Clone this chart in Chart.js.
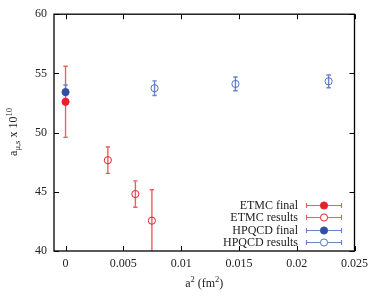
<!DOCTYPE html>
<html>
<head>
<meta charset="utf-8">
<script src="https://cdn.jsdelivr.net/npm/chart.js@4/dist/chart.umd.min.js"></script>
<style>
  html, body { margin: 0; padding: 0; background: #fff; }
</style>
</head>
<body>
<canvas id="chart" width="374" height="297"></canvas>
<script>
// values
const ETMC_FINAL_X   = [0]
const ETMC_FINAL_Y   = [52.6]
const ETMC_FINAL_ERR = [3.0]

const ETMC_X   = [0.00366, 0.00604, 0.00747]
const ETMC_Y   = [47.67, 44.81, 42.56]
const ETMC_ERR = [1.11, 1.11, 2.61]

const HPQCD_FINAL_X   = [0]
const HPQCD_FINAL_Y   = [53.42]
const HPQCD_FINAL_ERR = [0.6]

const HPQCD_X   = [0.0077, 0.0147, 0.02276]
const HPQCD_Y   = [53.75, 54.11, 54.33]
const HPQCD_ERR = [0.62, 0.58, 0.54]

const SERIES_LABELS = ['ETMC final', 'ETMC results', 'HPQCD final', 'HPQCD results']

const X_TICKS = [0, 0.005, 0.01, 0.015, 0.02, 0.025]
const X_TICK_LABELS = ['0', '0.005', '0.01', '0.015', '0.02', '0.025']
const Y_TICKS = [40, 45, 50, 55, 60]

const RED = '#e8202a'
const RED_BAR = '#ef5f62'
const BLUE = '#2f4fa6'
const BLUE_OPEN = '#5572c0'
const BLUE_BAR = '#6a84c8'
const FONT = "'Liberation Serif', 'DejaVu Serif', serif"

const pts = (xs, ys, es) => xs.map((x, i) => ({ x, y: ys[i], err: es[i] }))

const datasets = [
  { label: SERIES_LABELS[0], data: pts(ETMC_FINAL_X, ETMC_FINAL_Y, ETMC_FINAL_ERR),
    pointRadius: 3.6, backgroundColor: RED, borderColor: RED, borderWidth: 1, barColor: RED_BAR, open: false },
  { label: SERIES_LABELS[1], data: pts(ETMC_X, ETMC_Y, ETMC_ERR),
    pointRadius: 3.6, backgroundColor: 'rgba(255,255,255,0)', borderColor: RED, borderWidth: 1, barColor: RED_BAR, open: true },
  { label: SERIES_LABELS[2], data: pts(HPQCD_FINAL_X, HPQCD_FINAL_Y, HPQCD_FINAL_ERR),
    pointRadius: 3.6, backgroundColor: BLUE, borderColor: BLUE, borderWidth: 1, barColor: BLUE_BAR, open: false },
  { label: SERIES_LABELS[3], data: pts(HPQCD_X, HPQCD_Y, HPQCD_ERR),
    pointRadius: 3.6, backgroundColor: 'rgba(255,255,255,0)', borderColor: BLUE_OPEN, borderWidth: 1, barColor: BLUE_BAR, open: true },
]

// vertical error bars, clipped to the plot frame
const errorBars = {
  id: 'errorBars',
  beforeDatasetsDraw(chart) {
    const { ctx, chartArea: a, scales: { x, y } } = chart
    ctx.save()
    ctx.beginPath()
    ctx.rect(a.left, a.top, a.right - a.left, a.bottom - a.top)
    ctx.clip()
    ctx.lineWidth = 1.4
    chart.data.datasets.forEach(ds => {
      ctx.strokeStyle = ds.barColor
      ds.data.forEach(p => {
        const px = x.getPixelForValue(p.x)
        const top = y.getPixelForValue(p.y + p.err)
        const bot = y.getPixelForValue(p.y - p.err)
        ctx.beginPath()
        ctx.moveTo(px, top); ctx.lineTo(px, bot)
        ctx.moveTo(px - 2.2, top); ctx.lineTo(px + 2.2, top)
        ctx.moveTo(px - 2.2, bot); ctx.lineTo(px + 2.2, bot)
        ctx.stroke()
      })
    })
    ctx.restore()
  }
}

// frame, inward ticks, axis titles and key
const decorations = {
  id: 'decorations',
  afterDraw(chart) {
    const { ctx, chartArea: a, scales: { x, y } } = chart
    ctx.save()
    ctx.strokeStyle = '#000'
    ctx.lineWidth = 1.3
    ctx.strokeRect(a.left, a.top, a.right - a.left, a.bottom - a.top)

    ctx.lineWidth = 1
    ctx.beginPath()
    X_TICKS.forEach(v => {
      const px = Math.round(x.getPixelForValue(v)) + 0.5
      ctx.moveTo(px, a.bottom); ctx.lineTo(px, a.bottom - 5)
      ctx.moveTo(px, a.top); ctx.lineTo(px, a.top + 5)
    })
    Y_TICKS.forEach(v => {
      const py = Math.round(y.getPixelForValue(v)) + 0.5
      ctx.moveTo(a.left, py); ctx.lineTo(a.left + 5, py)
      ctx.moveTo(a.right, py); ctx.lineTo(a.right - 5, py)
    })
    ctx.stroke()

    ctx.fillStyle = '#222'

    // x title: a^2 (fm^2)
    const xParts = [['a', 12, 0], ['2', 8.5, -5], [' (fm', 12, 0], ['2', 8.5, -5], [')', 12, 0]]
    drawParts(ctx, xParts, (a.left + a.right) / 2, 287)

    // y title: a_{mu,s} x 10^10, rotated
    ctx.save()
    ctx.translate(17, 132)
    ctx.rotate(-Math.PI / 2)
    const yParts = [['a', 12, 0], ['\u03bc,s', 8.5, 3], [' x 10', 12, 0], ['10', 8.5, -5]]
    drawParts(ctx, yParts, 0, 0)
    ctx.restore()

    // key
    const textRight = 298
    const lx0 = 306, lx1 = 342, mx = 324
    chart.data.datasets.forEach((ds, i) => {
      const ly = 205 + i * 12.3
      ctx.font = '12px ' + FONT
      ctx.textAlign = 'right'
      ctx.textBaseline = 'middle'
      ctx.fillStyle = '#222'
      ctx.fillText(ds.label, textRight, ly + 1)
      ctx.strokeStyle = ds.barColor
      ctx.lineWidth = 1.2
      const yy = Math.round(ly) + 0.5
      ctx.beginPath()
      ctx.moveTo(lx0, yy); ctx.lineTo(lx1, yy)
      ctx.moveTo(lx0 + 0.5, yy - 2.5); ctx.lineTo(lx0 + 0.5, yy + 2.5)
      ctx.moveTo(lx1 - 0.5, yy - 2.5); ctx.lineTo(lx1 - 0.5, yy + 2.5)
      ctx.stroke()
      ctx.beginPath()
      ctx.arc(mx, yy, ds.pointRadius, 0, Math.PI * 2)
      ctx.fillStyle = ds.open ? '#fff' : ds.backgroundColor
      ctx.fill()
      ctx.lineWidth = 1
      ctx.strokeStyle = ds.borderColor
      ctx.stroke()
    })
    ctx.restore()
  }
}

function drawParts(ctx, parts, cx, baseY) {
  ctx.textAlign = 'left'
  ctx.textBaseline = 'alphabetic'
  let total = 0
  parts.forEach(([t, s]) => { ctx.font = s + 'px ' + FONT; total += ctx.measureText(t).width })
  let px = cx - total / 2
  parts.forEach(([t, s, dy]) => {
    ctx.font = s + 'px ' + FONT
    ctx.fillText(t, px, baseY + dy)
    px += ctx.measureText(t).width
  })
}

new Chart(document.getElementById('chart'), {
  type: 'scatter',
  data: { datasets },
  options: {
    responsive: false,
    animation: false,
    layout: { padding: { top: 11, right: 18, left: 0, bottom: 0 } },
    plugins: { legend: { display: false }, tooltip: { enabled: false } },
    scales: {
      x: {
        type: 'linear',
        min: -0.001,
        max: 0.025,
        afterBuildTicks: s => { s.ticks = X_TICKS.map(v => ({ value: v })) },
        afterFit: s => { s.height = 46 },
        grid: { display: false, drawTicks: false },
        border: { display: false },
        ticks: {
          autoSkip: false,
          maxRotation: 0,
          padding: 6,
          color: '#222',
          font: { family: FONT, size: 12 },
          callback: v => X_TICK_LABELS[X_TICKS.indexOf(v)] ?? ''
        }
      },
      y: {
        min: 40,
        max: 60,
        afterBuildTicks: s => { s.ticks = Y_TICKS.map(v => ({ value: v })) },
        afterFit: s => { s.width = 54 },
        grid: { display: false, drawTicks: false },
        border: { display: false },
        ticks: {
          padding: 7,
          color: '#222',
          font: { family: FONT, size: 12 }
        }
      }
    }
  },
  plugins: [errorBars, decorations]
})
</script>
</body>
</html>
